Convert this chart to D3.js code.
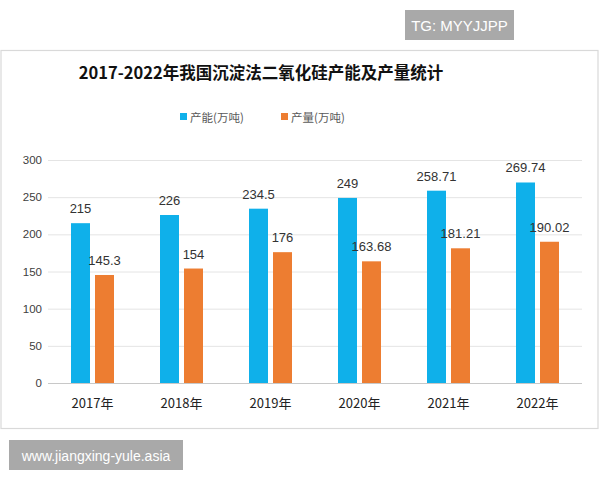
<!DOCTYPE html>
<html>
<head>
<meta charset="utf-8">
<script src="https://cdn.jsdelivr.net/npm/d3@7"></script>
<style>
  body { margin: 0; background: #fff; }
  svg { display: block; font-family: "Liberation Sans", "Noto Sans CJK SC", sans-serif; }
</style>
</head>
<body>
<svg id="chart"></svg>
<script>
// Data
var years = ["2017年", "2018年", "2019年", "2020年", "2021年", "2022年"];
var capacity = [215, 226, 234.5, 249, 258.71, 269.74];   // 产能(万吨)
var output = [145.3, 154, 176, 163.68, 181.21, 190.02];  // 产量(万吨)
var seriesNames = ["产能(万吨)", "产量(万吨)"];
var yTicks = [0, 50, 100, 150, 200, 250, 300];

var width = 600, height = 480;
var colors = ["#0fb0ea", "#ed7d31"];
var cjk = '"Noto Sans CJK SC", sans-serif';

var svg = d3.select("#chart").attr("width", width).attr("height", height);

// TG badge at top right
svg.append("rect").attr("x", 405).attr("y", 10).attr("width", 109).attr("height", 30).attr("fill", "#a9a9a9");
svg.append("text").attr("x", 459.5).attr("y", 31).attr("text-anchor", "middle")
    .attr("fill", "#fff").style("font-size", "15px").text("TG: MYYJJPP");

// chart frame
svg.append("rect").attr("x", 1).attr("y", 50.5).attr("width", 597).attr("height", 378)
    .attr("fill", "#fff").attr("stroke", "#d9d9d9").attr("stroke-width", 1.2);

// title
svg.append("text").attr("x", 261).attr("y", 79).attr("text-anchor", "middle")
    .attr("fill", "#111").style("font-family", cjk).style("font-weight", "bold").style("font-size", "16.5px")
    .text("2017-2022年我国沉淀法二氧化硅产能及产量统计");

// legend
var legendX = [180, 281];
seriesNames.forEach(function (name, i) {
    svg.append("rect").attr("x", legendX[i]).attr("y", 113).attr("width", 7).attr("height", 7).attr("fill", colors[i]);
    svg.append("text").attr("x", legendX[i] + 10).attr("y", 121.5)
        .attr("fill", "#595959").style("font-family", cjk).style("font-size", "11.5px").text(name);
});

// scales
var x = d3.scaleBand().domain(years).range([48, 582]);
var y = d3.scaleLinear().domain([0, 300]).range([383, 160]);

// grid lines
svg.append("g").selectAll("line").data(yTicks).enter().append("line")
    .attr("x1", 48).attr("x2", 582)
    .attr("y1", function (d) { return y(d) + 0.5; })
    .attr("y2", function (d) { return y(d) + 0.5; })
    .attr("stroke", function (d) { return d === 0 ? "#c8c8c8" : "#e4e4e4"; })
    .attr("stroke-width", 1);

// y axis labels
svg.append("g").selectAll("text").data(yTicks).enter().append("text")
    .attr("x", 42).attr("y", function (d) { return y(d) + 4; })
    .attr("text-anchor", "end").attr("fill", "#404040").style("font-size", "11.5px")
    .text(function (d) { return d; });

// bars
var barW = 19, gap = 5;
var series = [capacity, output];
series.forEach(function (vals, s) {
    var g = svg.append("g");
    g.selectAll("rect").data(vals).enter().append("rect")
        .attr("x", function (d, i) { return x(years[i]) + x.bandwidth() / 2 - barW - gap / 2 + s * (barW + gap); })
        .attr("y", function (d) { return y(d); })
        .attr("width", barW)
        .attr("height", function (d) { return y(0) - y(d); })
        .attr("fill", colors[s]);
    g.selectAll("text").data(vals).enter().append("text")
        .attr("x", function (d, i) { return x(years[i]) + x.bandwidth() / 2 - barW / 2 - gap / 2 + s * (barW + gap); })
        .attr("y", function (d) { return y(d) - 10; })
        .attr("text-anchor", "middle").attr("fill", "#333").style("font-size", "13px")
        .text(function (d) { return d; });
});

// x labels
svg.append("g").selectAll("text").data(years).enter().append("text")
    .attr("x", function (d) { return x(d) + x.bandwidth() / 2; })
    .attr("y", 408).attr("text-anchor", "middle").attr("fill", "#222")
    .style("font-family", cjk).style("font-size", "13px")
    .text(function (d) { return d; });

// watermark at bottom left
svg.append("rect").attr("x", 9).attr("y", 440).attr("width", 174).attr("height", 30).attr("fill", "#a9a9a9");
svg.append("text").attr("x", 96).attr("y", 460.5).attr("text-anchor", "middle")
    .attr("fill", "#fff").style("font-size", "14px").text("www.jiangxing-yule.asia");
</script>
</body>
</html>
